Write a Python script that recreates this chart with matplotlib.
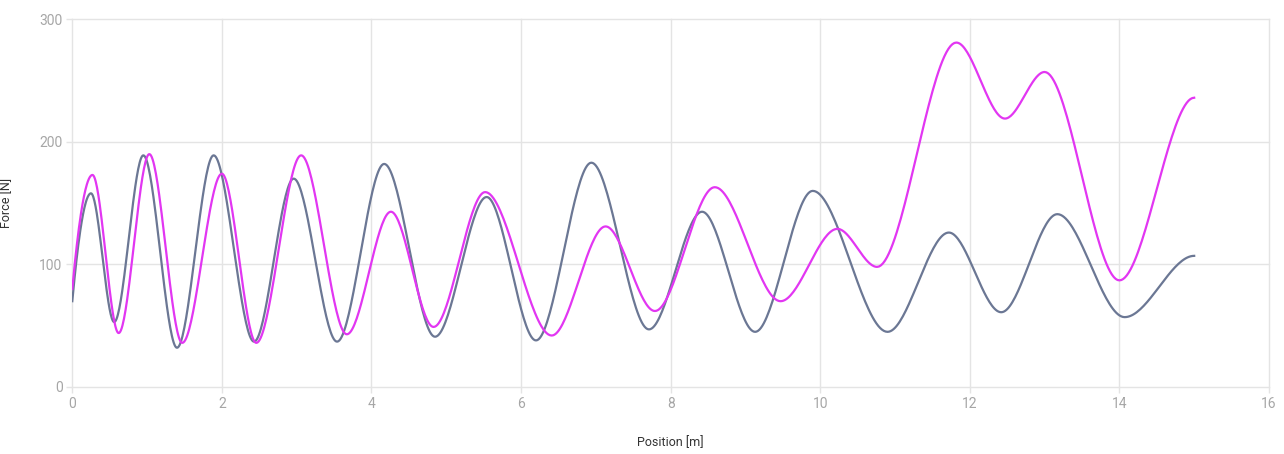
import numpy as np
import matplotlib.pyplot as plt

plt.rcParams['font.family'] = ['Roboto', 'DejaVu Sans']

# turning points of each curve (position m, force N)
grey_x = [0.0, 0.25, 0.56, 0.95, 1.40, 1.89, 2.43, 2.96, 3.54, 4.17, 4.85,
          5.54, 6.20, 6.94, 7.71, 8.42, 9.13, 9.90, 10.90, 11.72, 12.42,
          13.17, 14.07, 15.0]
grey_y = [70, 158, 53, 189, 32, 189, 37, 170, 37, 182, 41,
          155, 38, 183, 47, 143, 45, 160, 45, 126, 61,
          141, 57, 107]

pink_x = [0.0, 0.27, 0.62, 1.03, 1.47, 2.00, 2.46, 3.06, 3.67, 4.26, 4.83,
          5.52, 6.41, 7.13, 7.79, 8.59, 9.47, 10.23, 10.76, 11.82, 12.47,
          13.00, 14.00, 15.0]
pink_y = [80, 173, 44, 190, 36, 174, 36, 189, 43, 143, 49,
          159, 42, 131, 62, 163, 70, 129, 98, 281, 219,
          257, 87, 236]


# smooth line through the points (monotone cubic, flat at the last point)
def smooth(xs, ys, n=40):
    xs = np.asarray(xs, float)
    ys = np.asarray(ys, float)
    h = np.diff(xs)
    d = np.diff(ys) / h
    m = np.zeros_like(xs)
    for i in range(1, len(xs) - 1):
        if d[i - 1] * d[i] > 0:
            w1 = 2 * h[i] + h[i - 1]
            w2 = h[i] + 2 * h[i - 1]
            m[i] = (w1 + w2) / (w1 / d[i - 1] + w2 / d[i])
    m0 = ((2 * h[0] + h[1]) * d[0] - h[0] * d[1]) / (h[0] + h[1])
    if np.sign(m0) != np.sign(d[0]):
        m0 = 0
    elif abs(m0) > 3 * abs(d[0]):
        m0 = 3 * d[0]
    m[0] = m0
    m[-1] = 0
    px, py = [], []
    for i in range(len(xs) - 1):
        t = np.linspace(0, 1, n, endpoint=False)
        h00 = 2 * t**3 - 3 * t**2 + 1
        h10 = t**3 - 2 * t**2 + t
        h01 = -2 * t**3 + 3 * t**2
        h11 = t**3 - t**2
        px.extend(xs[i] + t * h[i])
        py.extend(h00 * ys[i] + h10 * h[i] * m[i] + h01 * ys[i + 1] + h11 * h[i] * m[i + 1])
    px.append(xs[-1])
    py.append(ys[-1])
    return px, py


fig = plt.figure(figsize=(12.84, 4.54), dpi=100)
ax = fig.add_axes([0.0563, 0.1476, 0.9320, 0.8099])

gx, gy = smooth(grey_x, grey_y)
px, py = smooth(pink_x, pink_y)
ax.plot(gx, gy, color='#6b7794', lw=1.6, zorder=3)
ax.plot(px, py, color='#e236f2', lw=1.6, zorder=3)

ax.set_xlim(0, 16)
ax.set_ylim(0, 300)
ax.set_xticks(range(0, 17, 2))
ax.set_yticks([0, 100, 200, 300])
ax.grid(True, color='#e4e4e4', lw=1)
for line in ax.get_xgridlines() + ax.get_ygridlines():
    line.set_clip_on(False)
for s in ax.spines.values():
    s.set_visible(False)
ax.tick_params(length=4, width=1, color='#e4e4e4', labelcolor='#a6a6a6',
               labelsize=10, pad=3)

ax.set_xlabel('Position [m]', fontsize=9, color='#333333', labelpad=18)
ax.set_ylabel('Force [N]', fontsize=9, color='#333333', labelpad=19)

fig.savefig('out.png', dpi=100)
